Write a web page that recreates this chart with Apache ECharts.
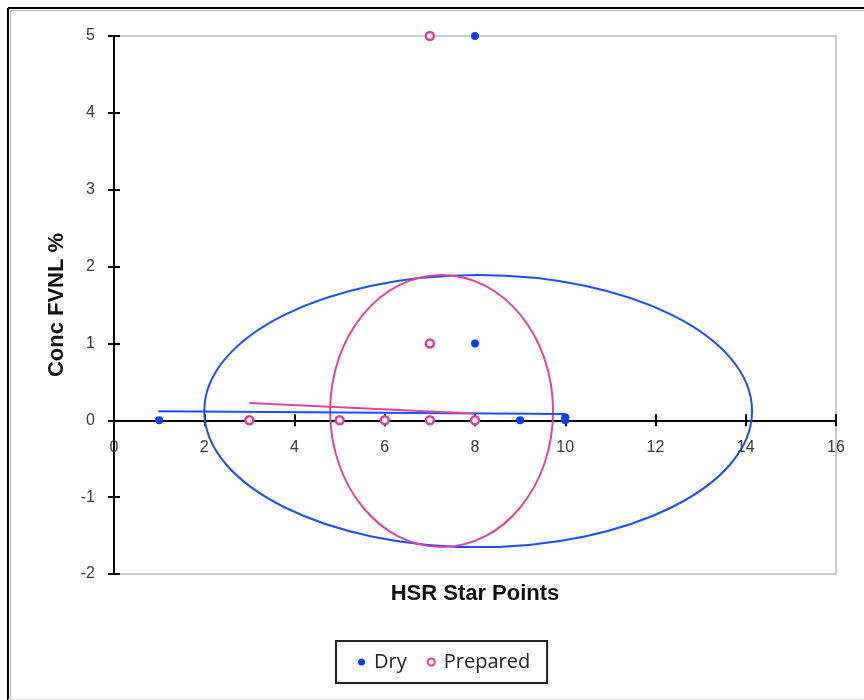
<!DOCTYPE html>
<html>
<head>
<meta charset="utf-8">
<script src="https://cdn.jsdelivr.net/npm/echarts@6/dist/echarts.min.js"></script>
<style>
html,body{margin:0;padding:0;background:#fff;}
#chart{width:864px;height:700px;}
</style>
</head>
<body>
<div id="chart"></div>
<script>
// ---- data ----
var xTickValues = [0, 2, 4, 6, 8, 10, 12, 14, 16];
var yTickValues = [-2, -1, 0, 1, 2, 3, 4, 5];
var dryPoints = [[1, 0], [8, 5], [8, 1], [9, 0], [10, 0], [10, 0.04]];
var preparedPoints = [[7, 5], [7, 1], [3, 0], [5, 0], [6, 0], [7, 0], [8, 0]];
var dryTrend = [[0.98, 0.117], [10, 0.082]];
var preparedTrend = [[3, 0.225], [7.96, 0.087]];
// ellipse: [centerX, centerY, radiusX, radiusY]
var dryEllipse = [[8.07, 0.12, 6.07, 1.77]];
var preparedEllipse = [[7.26, 0.12, 2.47, 1.77]];

var BLUE = '#0a3ef0';
var BLUE_LINE = '#1f4ef2';
var PINK = '#d63f9c';
var PINK_LINE = '#d9489f';

var GRID_TOP = 36, GRID_BOTTOM = 126, CHART_H = 700;
var Y_MIN = -2, Y_MAX = 5;

function ellipseRender(color) {
  return function (params, api) {
    var c = api.coord([api.value(0), api.value(1)]);
    var s = api.size([api.value(2), api.value(3)]);
    return {
      type: 'ellipse',
      shape: { cx: c[0], cy: c[1], rx: s[0], ry: s[1] },
      style: { fill: 'none', stroke: color, lineWidth: 2 }
    };
  };
}

var chart = echarts.init(document.getElementById('chart'), null, { renderer: 'canvas' });

// distance of the zero line from the grid's bottom / top edges
var gridH = CHART_H - GRID_TOP - GRID_BOTTOM;
var zeroFromBottom = gridH * (0 - Y_MIN) / (Y_MAX - Y_MIN);
var zeroFromTop = gridH - zeroFromBottom;

var axisLabelStyle = { color: '#3a3a3a', fontSize: 16, fontFamily: 'Liberation Sans' };

var option = {
  animation: false,
  backgroundColor: '#fff',
  grid: {
    left: 114, right: 28, top: GRID_TOP, bottom: GRID_BOTTOM,
    show: true, borderColor: '#cccccc', borderWidth: 2, backgroundColor: 'transparent'
  },
  graphic: [
    { type: 'line', shape: { x1: 8, y1: 8, x2: 864, y2: 8 }, style: { stroke: '#000', lineWidth: 2 }, z: 100 },
    { type: 'line', shape: { x1: 8, y1: 8, x2: 8, y2: 700 }, style: { stroke: '#000', lineWidth: 2 }, z: 100 },
    { type: 'line', shape: { x1: 10, y1: 10.5, x2: 864, y2: 10.5 }, style: { stroke: '#bbbbbb', lineWidth: 1 }, z: 100 },
    { type: 'line', shape: { x1: 10.5, y1: 10, x2: 10.5, y2: 700 }, style: { stroke: '#bbbbbb', lineWidth: 1 }, z: 100 },
    { type: 'line', shape: { x1: 8, y1: 699.5, x2: 864, y2: 699.5 }, style: { stroke: '#dddddd', lineWidth: 1 }, z: 100 }
  ],
  legend: {
    data: ['Dry', 'Prepared'],
    left: 336, top: 641,
    orient: 'horizontal',
    icon: 'circle',
    itemWidth: 7, itemHeight: 7,
    itemGap: 20,
    padding: [11, 17, 11, 22],
    borderColor: '#222', borderWidth: 2,
    textStyle: { color: '#222', fontSize: 20, fontFamily: 'Open Sans', padding: [0, 0, 0, 4] }
  },
  xAxis: [
    {
      type: 'value', min: 0, max: 16, interval: 2, position: 'bottom', offset: -zeroFromBottom,
      axisLine: { show: true, onZero: false, lineStyle: { color: '#000', width: 2 } },
      axisTick: { show: true, inside: false, length: 6, lineStyle: { color: '#000', width: 2 } },
      axisLabel: Object.assign({ margin: 19, formatter: function (v) { return xTickValues.indexOf(v) >= 0 ? String(v) : ''; } }, axisLabelStyle),
      splitLine: { show: false },
      name: 'HSR Star Points', nameLocation: 'middle', nameGap: zeroFromBottom + 9,
      nameTextStyle: { color: '#111', fontSize: 22, fontWeight: 'bold', fontFamily: 'Liberation Sans' }
    },
    {
      type: 'value', min: 0, max: 16, interval: 2, position: 'top', offset: -zeroFromTop,
      axisLine: { show: true, onZero: false, lineStyle: { color: '#000', width: 2 } },
      axisTick: { show: true, inside: false, length: 6, lineStyle: { color: '#000', width: 2 } },
      axisLabel: { show: false },
      splitLine: { show: false }
    }
  ],
  yAxis: [
    {
      type: 'value', min: Y_MIN, max: Y_MAX, interval: 1, position: 'left',
      axisLine: { show: true, onZero: false, lineStyle: { color: '#000', width: 2 } },
      axisTick: { show: true, inside: false, length: 6, lineStyle: { color: '#000', width: 2 } },
      axisLabel: Object.assign({ margin: 19, formatter: function (v) { return yTickValues.indexOf(v) >= 0 ? String(v) : ''; } }, axisLabelStyle),
      splitLine: { show: false },
      name: 'Conc FVNL %', nameLocation: 'middle', nameGap: 46, nameRotate: 90,
      nameTextStyle: { color: '#111', fontSize: 22, fontWeight: 'bold', fontFamily: 'Liberation Sans' }
    },
    {
      type: 'value', min: Y_MIN, max: Y_MAX, interval: 1, position: 'left',
      axisLine: { show: true, onZero: false, lineStyle: { color: '#000', width: 2 } },
      axisTick: { show: true, inside: true, length: 6, lineStyle: { color: '#000', width: 2 } },
      axisLabel: { show: false },
      splitLine: { show: false }
    }
  ],
  series: [
    {
      name: 'dryEllipse', type: 'custom', renderItem: ellipseRender(BLUE_LINE),
      data: dryEllipse, z: 2, silent: true, clip: true
    },
    {
      name: 'preparedEllipse', type: 'custom', renderItem: ellipseRender(PINK_LINE),
      data: preparedEllipse, z: 2, silent: true, clip: true
    },
    {
      name: 'dryTrend', type: 'line', data: dryTrend, symbol: 'none', z: 3,
      lineStyle: { color: BLUE_LINE, width: 2 }
    },
    {
      name: 'preparedTrend', type: 'line', data: preparedTrend, symbol: 'none', z: 3,
      lineStyle: { color: PINK_LINE, width: 2 }
    },
    {
      name: 'Prepared', type: 'scatter', data: preparedPoints, symbol: 'circle', symbolSize: 8, z: 5,
      itemStyle: { color: '#ffffff', borderColor: PINK, borderWidth: 2.5, opacity: 1 }
    },
    {
      name: 'Dry', type: 'scatter', data: dryPoints, symbol: 'circle', symbolSize: 8, z: 6,
      itemStyle: { color: BLUE, opacity: 1 }
    }
  ]
};
chart.setOption(option);
</script>
</body>
</html>
